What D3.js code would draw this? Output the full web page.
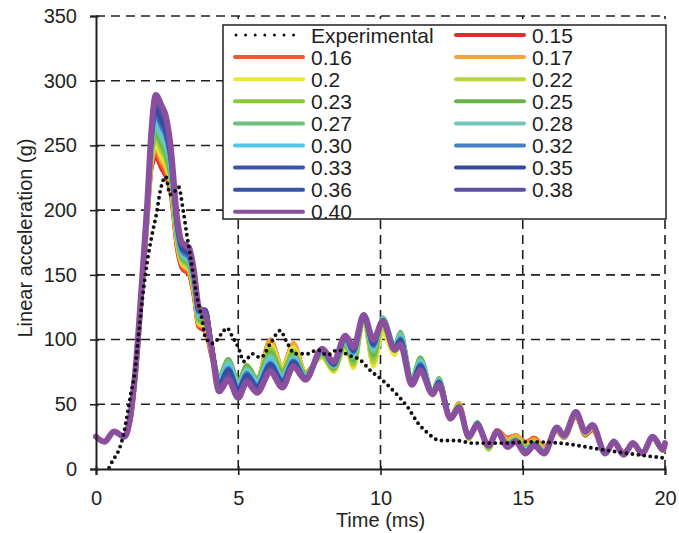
<!DOCTYPE html>
<html><head><meta charset="utf-8">
<script src="https://cdn.jsdelivr.net/npm/d3@7"></script>
<style>
body{margin:0;background:#fff}
svg{display:block}
text{font-family:"Liberation Sans",Arial,sans-serif;fill:#231f20}
</style>
</head><body>
<svg id="chart" width="679" height="533"></svg>
<script>
// ---- data ----
const time = [0,0.3,0.63,1.0,1.2,1.4,1.6,1.8,1.95,2.1,
  2.3,2.45,2.62,2.85,3.02,3.27,3.45,3.6,3.85,4.05,
  4.33,4.65,5.0,5.3,5.66,6.13,6.55,6.94,7.36,7.95,
  8.35,8.77,9.05,9.41,9.75,10.08,10.5,10.7,11.1,11.4,
  11.83,12.05,12.46,12.76,13.1,13.4,13.8,14.1,14.47,14.75,
  15.1,15.4,15.75,16.2,16.45,16.87,17.2,17.45,17.9,18.2,
  18.55,18.87,19.2,19.57,19.93,20];

const s015 = [25,21,29,25,36,74,130,190,232,241, 232,226,214,170,155,150,132,110,106,88, 68,78,66,78,70,99,79,96,75,87, 76,95,80,116,82,108,90,98,67,82, 57,68,40,50,25,34,17,30,24,26, 20,24,17,29,24,40,26,30,12,21, 13,19,13,24,14,19];
const s016 = [25,21,29,25,36,74,131,191,234,244, 235,229,216,172,156,151,133,111,107,89, 68,79,66,79,70,100,79,97,75,87, 76,95,80,116,82,108,90,99,67,83, 57,69,40,51,25,34,17,30,24,26, 21,24,17,29,24,41,26,31,12,21, 13,19,13,24,14,19];
const s017 = [25,21,29,25,37,75,131,192,236,247, 238,232,219,173,158,153,135,112,108,90, 69,80,67,79,70,100,79,97,75,87, 76,95,79,116,81,108,89,99,68,83, 57,69,40,51,24,35,16,30,23,26, 20,23,17,30,24,41,27,31,12,21, 12,19,13,24,14,19];
const s020 = [25,21,29,25,37,75,132,193,238,250, 241,235,221,175,159,154,136,113,110,92, 70,82,68,80,70,96,79,94,75,86, 75,94,78,115,79,105,88,100,68,84, 57,70,38,49,23,35,15,28,21,24, 17,21,15,30,25,42,27,32,12,21, 12,19,13,24,14,19];
const s022 = [25,21,29,25,37,76,133,194,240,254, 245,238,223,176,160,155,137,114,111,93, 71,83,68,80,70,94,77,92,74,87, 76,95,80,116,82,110,91,103,69,85, 58,70,39,49,23,35,15,28,21,24, 17,21,15,30,25,42,27,32,12,22, 12,19,13,24,14,19];
const s023 = [25,21,29,25,38,76,133,195,242,257, 248,241,226,178,162,157,139,115,112,94, 72,85,68,80,70,92,76,90,74,88, 77,96,82,116,85,114,94,105,70,86, 60,70,40,49,24,36,16,28,20,23, 16,20,14,31,25,43,28,33,12,22, 12,19,13,24,14,19];
const s025 = [25,21,29,25,38,77,134,196,244,260, 251,244,228,180,163,158,140,116,114,95, 72,85,68,80,70,90,74,89,73,89, 78,97,84,117,88,117,96,106,70,86, 60,70,40,49,24,36,17,29,20,23, 16,20,14,31,25,43,28,33,12,22, 12,20,13,24,15,20];
const s027 = [25,21,29,25,38,77,135,197,246,263, 254,247,230,181,164,159,141,117,116,95, 71,84,67,78,69,88,73,88,73,90, 79,98,86,117,90,117,96,105,70,85, 60,70,40,48,24,36,17,29,19,23, 15,20,14,31,25,43,28,33,12,22, 12,20,13,25,15,20];
const s028 = [25,21,29,25,39,77,135,198,248,266, 257,250,233,183,166,161,143,119,117,95, 70,82,66,77,68,86,71,86,72,90, 79,99,87,117,92,116,95,104,69,84, 60,69,40,48,24,35,17,29,19,22, 15,19,13,31,25,43,28,33,12,22, 12,20,12,25,15,20];
const s030 = [25,21,29,25,39,78,136,199,250,270, 261,254,235,184,167,162,144,120,118,96, 68,80,64,75,66,84,70,85,71,91, 80,100,89,118,94,116,95,102,68,82, 59,68,40,48,25,35,18,29,19,22, 14,19,13,31,25,43,28,33,12,22, 11,20,12,25,15,20];
const s032 = [25,21,29,25,39,78,137,200,252,273, 264,257,238,186,168,163,145,121,120,97, 67,78,63,74,65,82,69,84,71,91, 80,100,90,118,95,115,94,101,68,81, 59,68,40,48,25,35,18,29,18,22, 14,19,13,31,25,44,28,34,12,21, 11,20,12,25,15,20];
const s033 = [25,21,29,25,39,78,137,201,254,276, 267,260,240,187,170,165,147,122,122,98, 66,77,62,73,64,81,68,83,70,92, 81,101,91,118,96,115,94,100,67,80, 59,67,40,48,25,35,18,29,18,22, 13,19,13,32,26,44,29,34,12,21, 11,20,12,25,15,20];
const s035 = [25,21,29,25,40,79,138,202,256,279, 270,263,243,189,171,166,148,123,123,98, 65,76,61,72,63,80,67,82,70,92, 81,102,92,118,97,115,93,99,67,79, 59,67,40,48,25,35,18,29,18,22, 13,19,12,32,26,44,29,34,12,21, 11,20,12,25,15,20];
const s036 = [25,21,29,25,40,79,139,203,258,282, 274,266,245,190,172,168,149,124,123,98, 64,75,60,71,62,79,66,81,70,92, 82,102,93,119,98,115,93,98,66,78, 59,66,40,47,25,34,18,29,18,21, 13,19,12,32,26,44,29,34,12,21, 11,20,12,25,15,20];
const s038 = [25,21,29,25,40,80,139,204,260,285, 277,270,248,192,174,170,151,125,122,97, 62,72,58,69,61,77,65,80,69,93, 82,103,93,119,99,114,92,97,66,77, 59,66,39,47,25,34,18,29,17,21, 12,18,12,32,26,44,29,34,12,21, 11,20,12,25,15,20];
const s040 = [25,21,29,25,40,80,140,205,262,289, 281,273,250,194,175,171,152,126,118,95, 60,69,55,67,59,75,63,79,69,93, 83,103,94,119,100,114,92,96,65,76, 58,65,39,47,25,34,18,29,17,21, 12,18,12,32,26,44,29,34,12,21, 11,20,12,25,15,20];

const seriesNames = ["0.15","0.16","0.17","0.2","0.22","0.23","0.25","0.27","0.28","0.30","0.32","0.33","0.35","0.36","0.38","0.40"];
const seriesValues = [s015,s016,s017,s020,s022,s023,s025,s027,s028,s030,s032,s033,s035,s036,s038,s040];
const seriesColors = ["#e8282b","#f05a28","#f7a23b","#ece636","#b6d441","#8dc63f","#6ab344","#6dc17a","#72c7bd","#54c6eb","#4480c4","#3a55a5","#344a9b","#3952a2","#5c52a2","#8b4fa0"];

const expTime = [0.46,0.6,0.77,0.95,1.13,1.23,1.34,1.48,1.65,1.8,1.97,2.14,2.25,2.36,2.45,2.6,2.75,2.9,3.07,3.2,3.3,3.55,3.73,3.84,4.1,4.43,4.6,4.8,5.0,5.2,5.5,5.78,6.13,6.48,6.66,7.0,7.43,7.78,8.13,8.49,8.87,9.3,9.65,10.1,10.6,10.95,11.3,11.65,12.1,12.7,13.2,13.7,14.3,15.2,16.3,17.5,18.7,19.4,20];
const expValues = [1,7,13,25,46,59,71,100,135,160,181,199,214,223,226,212,214,218,199,180,167,133,115,102,97,105,109,102,94,83,89,86,97,107,100,89,89,92,88,92,88,84,76,68,57,48,36,28,22,22,20,20,20,21,20,16,12,10,8.5];

const xTicks = [0,5,10,15,20];
const yTicks = [0,50,100,150,200,250,300,350];

// ---- chart ----
const svg = d3.select("#chart");
const x = d3.scaleLinear().domain([0,20]).range([96,665]);
const y = d3.scaleLinear().domain([0,350]).range([469,16]);
const ink = "#231f20";

// grid
const grid = svg.append("g").attr("stroke", ink).attr("stroke-width",1.6).attr("stroke-dasharray","9,6");
grid.selectAll("line.h").data(yTicks.filter(d=>d>0)).join("line")
  .attr("x1",x(0)).attr("x2",x(20)).attr("y1",d=>y(d)).attr("y2",d=>y(d));
grid.selectAll("line.v").data(xTicks.filter(d=>d>0)).join("line")
  .attr("y1",y(0)).attr("y2",y(350)).attr("x1",d=>x(d)).attr("x2",d=>x(d));

// series
const line = d3.line().curve(d3.curveMonotoneX);
const g = svg.append("g").attr("fill","none").attr("stroke-linejoin","round").attr("stroke-linecap","round");
seriesValues.forEach((vals,i)=>{
  g.append("path")
    .attr("d", line(time.map((t,k)=>[x(t), y(vals[k])])))
    .attr("stroke", seriesColors[i])
    .attr("stroke-width", i===15 ? 6 : 4.2);
});
// experimental
g.append("path")
  .attr("d", line(expTime.map((t,k)=>[x(t), y(expValues[k])])))
  .attr("stroke","#111").attr("stroke-width",3.9).attr("stroke-dasharray","0,6");

// axes
const yAxis = svg.append("g").attr("transform",`translate(${x(0)},0)`)
  .call(d3.axisLeft(y).tickValues(yTicks).tickSizeOuter(0).tickSize(6));
yAxis.select(".domain").attr("stroke",ink).attr("stroke-width",2);
yAxis.selectAll(".tick line").attr("x1",3).attr("x2",-6).attr("stroke",ink).attr("stroke-width",1.6);
yAxis.selectAll(".tick text").attr("x",-19).attr("font-size",20).attr("font-family",null).style("fill",ink);

const xAxis = svg.append("g").attr("transform",`translate(0,${y(0)})`)
  .call(d3.axisBottom(x).tickValues(xTicks).tickSizeOuter(0).tickSize(6));
xAxis.select(".domain").attr("stroke",ink).attr("stroke-width",2);
xAxis.selectAll(".tick line").attr("y1",-3).attr("y2",6).attr("stroke",ink).attr("stroke-width",1.6);
xAxis.selectAll(".tick text").attr("y",22).attr("font-size",20).attr("font-family",null).style("fill",ink);

svg.append("text").attr("x",x(10)).attr("y",527).attr("text-anchor","middle").attr("font-size",20).text("Time (ms)");
svg.append("text").attr("transform","translate(32,238) rotate(-90)").attr("text-anchor","middle").attr("font-size",20).text("Linear acceleration (g)");

// legend
const legendItems = [{name:"Experimental",color:"#111",dot:true}]
  .concat(seriesNames.map((n,i)=>({name:n,color:seriesColors[i],dot:false})));
const lg = svg.append("g");
lg.append("rect").attr("x",223).attr("y",25).attr("width",443).attr("height",194)
  .attr("fill","#fff").attr("stroke",ink).attr("stroke-width",1.5);
legendItems.forEach((it,i)=>{
  const col = i%2, row = Math.floor(i/2);
  const lx = col===0 ? 235 : 456;
  const cy = 35 + row*22.1;
  const ln = lg.append("line").attr("x1",lx).attr("x2",lx+68).attr("y1",cy).attr("y2",cy)
    .attr("stroke",it.color).attr("stroke-linecap","round");
  if(it.dot){ ln.attr("stroke-width",3).attr("stroke-dasharray","0,9.6").attr("x1",lx+1); }
  else { ln.attr("stroke-width",4); }
  lg.append("text").attr("x",lx+76).attr("y",cy+7.5).attr("font-size",21).text(it.name);
});
</script>
</body></html>
